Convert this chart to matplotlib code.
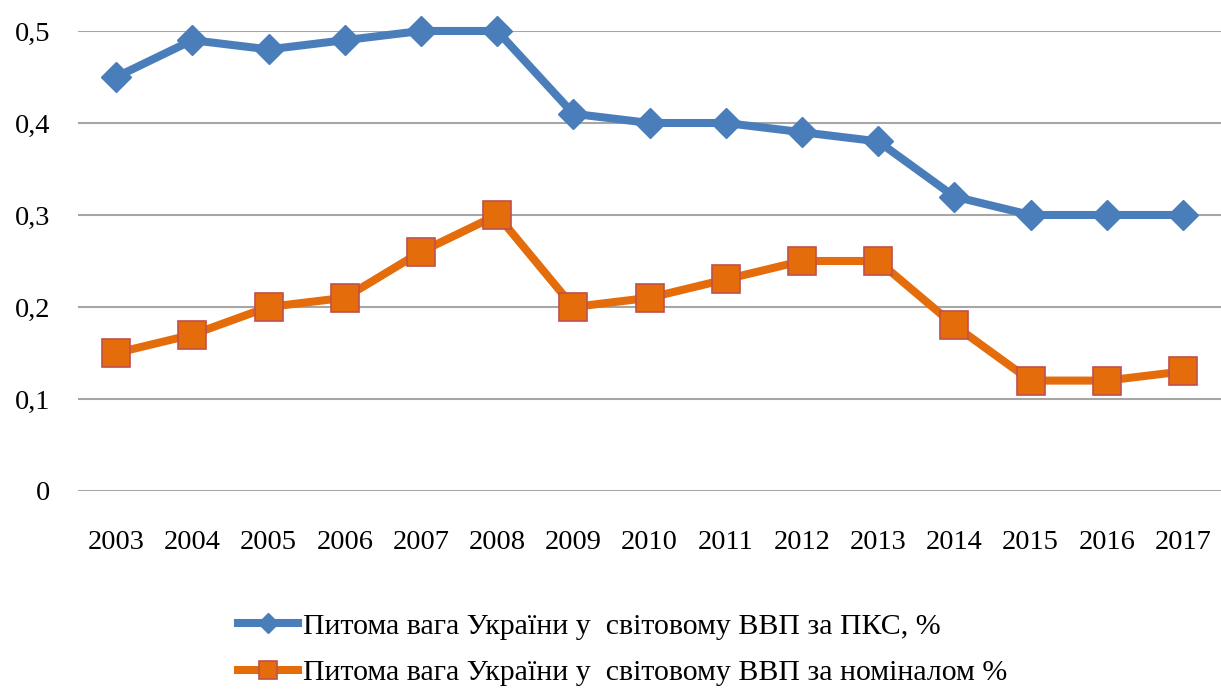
import matplotlib
matplotlib.use("Agg")
import matplotlib.pyplot as plt
from matplotlib.ticker import FuncFormatter

years = ["2003", "2004", "2005", "2006", "2007", "2008", "2009", "2010",
         "2011", "2012", "2013", "2014", "2015", "2016", "2017"]
ppp_share = [0.45, 0.49, 0.48, 0.49, 0.50, 0.50, 0.41, 0.40,
             0.40, 0.39, 0.38, 0.32, 0.30, 0.30, 0.30]
nominal_share = [0.15, 0.17, 0.20, 0.21, 0.26, 0.30, 0.20, 0.21,
                 0.23, 0.25, 0.25, 0.18, 0.12, 0.12, 0.13]
labels = ["Питома вага України у  світовому ВВП за ПКС, %",
          "Питома вага України у  світовому ВВП за номіналом %"]
y_ticks = [0, 0.1, 0.2, 0.3, 0.4, 0.5]

plt.rcParams['font.family'] = ['Liberation Serif', 'DejaVu Serif']

fig = plt.figure(figsize=(12.21, 6.93), dpi=100)
ax = fig.add_axes([0.064, 0.2915, 0.936, 0.6638])

x = list(range(len(years)))
ax.plot(x, ppp_share, color="#4A7EBB", lw=5.8, marker="D", ms=15.5,
        label=labels[0], solid_joinstyle="round", clip_on=False)
ax.plot(x, nominal_share, color="#E46C0A", lw=5.8, marker="s", ms=20,
        mec="#C0504D", mew=1.2, label=labels[1], solid_joinstyle="round",
        clip_on=False)

ax.set_xlim(-0.5, len(years) - 0.5)
ax.set_ylim(0, 0.5)
ax.set_xticks(x)
ax.set_xticklabels(years)
ax.set_yticks(y_ticks)
ax.yaxis.set_major_formatter(FuncFormatter(lambda v, p: "0" if v == 0 else f"{v:.1f}".replace(".", ",")))
ax.tick_params(axis="both", length=0, labelsize=20.5)
ax.tick_params(axis="y", pad=20)
ax.tick_params(axis="x", pad=28)
ax.grid(axis="y", color="#A6A6A6", lw=1.5)
ax.set_axisbelow(True)
for s in ax.spines.values():
    s.set_visible(False)

# legend sits a little higher than the reference so the second row is not cut
fig.legend(loc="upper center", bbox_to_anchor=(0.51, 0.133), ncol=1, frameon=False,
           fontsize=21.5, handlelength=2.0, handletextpad=0.15, labelspacing=0.65,
           markerscale=0.65, borderaxespad=0)

fig.savefig("out.png", dpi=100)
